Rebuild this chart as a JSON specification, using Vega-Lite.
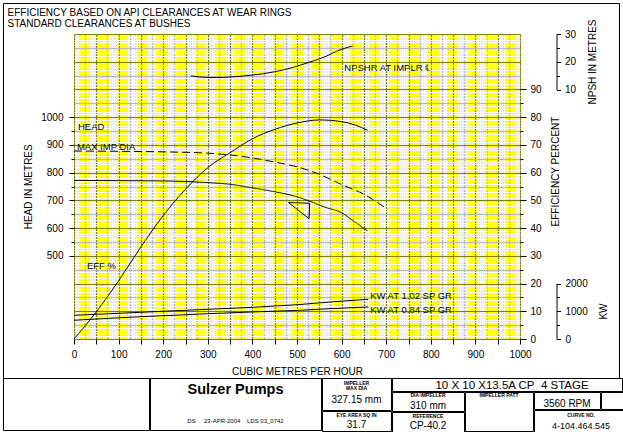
{
  "$schema": "https://vega.github.io/schema/vega-lite/v6.json",
  "padding": {"left": 2, "top": 2, "right": 5, "bottom": 3},
  "background": "white",
  "spacing": 0,
  "bounds": "flush",
  "config": {
    "font": "Liberation Sans",
    "view": {"stroke": "black", "strokeWidth": 1, "fill": "white"},
    "axis": {
      "labelFont": "Liberation Sans", "labelFontSize": 10, "labelColor": "black",
      "titleFont": "Liberation Sans", "titleFontSize": 10, "titleFontWeight": "normal", "titleColor": "black",
      "tickColor": "black", "domainColor": "black", "tickWidth": 1, "domainWidth": 1,
      "labelOverlap": false, "labelFlush": false, "gridOpacity": 1
    },
    "text": {"font": "Liberation Sans", "color": "black"}
  },
  "datasets": {
    "eff": [
      {"q": 0, "eff": 0}, {"q": 50, "eff": 9.8}, {"q": 100, "eff": 21}, {"q": 150, "eff": 33.2},
      {"q": 200, "eff": 44.5}, {"q": 250, "eff": 54}, {"q": 300, "eff": 61.8}, {"q": 350, "eff": 67.2},
      {"q": 400, "eff": 72.2}, {"q": 450, "eff": 75.6}, {"q": 500, "eff": 77.9}, {"q": 550, "eff": 79},
      {"q": 600, "eff": 78.4}, {"q": 630, "eff": 77.2}, {"q": 658, "eff": 75.3}
    ],
    "head": [
      {"q": 0, "h": 772, "s": "rated"}, {"q": 100, "h": 771, "s": "rated"}, {"q": 200, "h": 770, "s": "rated"},
      {"q": 250, "h": 768, "s": "rated"}, {"q": 300, "h": 764, "s": "rated"}, {"q": 350, "h": 758, "s": "rated"},
      {"q": 400, "h": 745, "s": "rated"}, {"q": 450, "h": 731, "s": "rated"}, {"q": 500, "h": 713, "s": "rated"},
      {"q": 530, "h": 696, "s": "rated"}, {"q": 560, "h": 677, "s": "rated"}, {"q": 600, "h": 655, "s": "rated"},
      {"q": 630, "h": 622, "s": "rated"}, {"q": 658, "h": 590, "s": "rated"},
      {"q": 0, "h": 878, "s": "max"}, {"q": 100, "h": 877, "s": "max"}, {"q": 200, "h": 875, "s": "max"},
      {"q": 300, "h": 870, "s": "max"}, {"q": 350, "h": 864, "s": "max"}, {"q": 400, "h": 853, "s": "max"},
      {"q": 450, "h": 838, "s": "max"}, {"q": 500, "h": 821, "s": "max"}, {"q": 550, "h": 794, "s": "max"},
      {"q": 600, "h": 757, "s": "max"}, {"q": 650, "h": 722, "s": "max"}, {"q": 703, "h": 668, "s": "max"}
    ],
    "npsh": [
      {"q": 262, "n": 14.9}, {"q": 290, "n": 14.4}, {"q": 320, "n": 14.3}, {"q": 350, "n": 14.5},
      {"q": 400, "n": 15.2}, {"q": 450, "n": 16.4}, {"q": 490, "n": 17.9}, {"q": 525, "n": 19.7},
      {"q": 555, "n": 21.3}, {"q": 600, "n": 24.5}, {"q": 625, "n": 25.7}
    ],
    "kw": [
      {"q": 0, "kw": 855, "s": "1.02"}, {"q": 100, "kw": 925, "s": "1.02"}, {"q": 200, "kw": 1000, "s": "1.02"},
      {"q": 300, "kw": 1070, "s": "1.02"}, {"q": 400, "kw": 1140, "s": "1.02"}, {"q": 500, "kw": 1235, "s": "1.02"},
      {"q": 580, "kw": 1340, "s": "1.02"}, {"q": 660, "kw": 1432, "s": "1.02"},
      {"q": 0, "kw": 675, "s": "0.84"}, {"q": 100, "kw": 765, "s": "0.84"}, {"q": 200, "kw": 840, "s": "0.84"},
      {"q": 300, "kw": 910, "s": "0.84"}, {"q": 400, "kw": 975, "s": "0.84"}, {"q": 500, "kw": 1030, "s": "0.84"},
      {"q": 584, "kw": 1100, "s": "0.84"}, {"q": 660, "kw": 1155, "s": "0.84"}
    ],
    "bep": [
      {"i": 1, "q": 481, "h": 692}, {"i": 2, "q": 528.5, "h": 689.5},
      {"i": 3, "q": 527, "h": 634}, {"i": 4, "q": 481, "h": 692}
    ],
    "labHead": [{"t": "HEAD", "q": 9, "v": 952}, {"t": "MAX IMP DIA", "q": 6.5, "v": 882}],
    "labEff": [{"t": "EFF %", "q": 29, "v": 25.4}],
    "labNpsh": [{"t": "NPSHR AT IMPLR ℄", "q": 606, "v": 16.5}],
    "labKw": [{"t": "KW AT 1.02 SP GR", "q": 664, "v": 1454}, {"t": "KW AT 0.84 SP GR", "q": 664, "v": 927}]
  },
  "vconcat": [
    {
      "width": 616,
      "height": 375,
      "view": {"stroke": "black", "strokeWidth": 1, "fill": "white"},
      "resolve": {"scale": {"y": "independent"}, "axis": {"x": "independent", "y": "independent"}},
      "layer": [
        {
          "data": {"name": "eff"},
          "mark": {"type": "point", "opacity": 0},
          "encoding": {
            "x": {"field": "q", "type": "quantitative", "scale": {"domain": [0, 1000], "range": [71, 517], "nice": false, "zero": false},
              "axis": {"orient": "top", "offset": -31, "values": [500], "grid": true, "gridColor": "#ffff00", "gridWidth": 446, "labels": false, "ticks": false, "domain": false,
                "title": ["EFFICIENCY BASED ON API CLEARANCES AT WEAR RINGS", "STANDARD CLEARANCES AT BUSHES"],
                "titleX": 4, "titleY": -19, "titleAlign": "left", "titleBaseline": "alphabetic", "titleAngle": 0, "titleLineHeight": 11, "titleFontSize": 10}},
            "y": {"field": "eff", "type": "quantitative", "scale": {"domain": [0, 110], "range": [336, 31], "nice": false, "zero": false}, "axis": null}
          }
        },
        {
          "data": {"name": "eff"},
          "mark": {"type": "point", "opacity": 0},
          "encoding": {
            "x": {"field": "q", "type": "quantitative", "scale": {"domain": [0, 1000], "range": [71, 517], "nice": false, "zero": false},
              "axis": {"orient": "top", "offset": -31, "tickCount": 200, "grid": true,
                "gridColor": {"condition": [{"test": "datum.value % 50 === 0", "value": "#808000"}, {"test": "datum.value % 25 === 0", "value": "#b8b8b8"}], "value": "#ffffff"},
                "gridWidth": 1, "labels": false, "ticks": false, "domain": false, "title": null}},
            "y": {"field": "eff", "type": "quantitative", "scale": {"domain": [0, 110], "range": [336, 31], "nice": false, "zero": false},
              "axis": {"orient": "left", "offset": -71, "tickCount": 110, "grid": true,
                "gridColor": {"condition": [{"test": "datum.value % 10 === 0", "value": "#808000"}, {"test": "datum.value % 5 === 0", "value": "#b8b8b8"}], "value": "#ffffff"},
                "gridWidth": 1, "labels": false, "ticks": false, "domain": false, "title": null}}
          }
        },
        {
          "data": {"name": "eff"},
          "mark": {"type": "line", "color": "black", "strokeWidth": 1, "interpolate": "monotone"},
          "encoding": {
            "x": {"field": "q", "type": "quantitative", "scale": {"domain": [0, 1000], "range": [71, 517], "nice": false, "zero": false},
              "axis": {"orient": "bottom", "offset": -39, "format": "d",
                "values": [0, 50, 100, 150, 200, 250, 300, 350, 400, 450, 500, 550, 600, 650, 700, 750, 800, 850, 900, 950, 1000],
                "labelExpr": "datum.value % 100 === 0 ? datum.label : ''",
                "tickSize": 5, "labelPadding": 5, "grid": false, "domain": false,
                "title": "CUBIC METRES PER HOUR", "titleX": 294, "titleY": 35, "titleBaseline": "alphabetic", "titleAlign": "center"}},
            "y": {"field": "eff", "type": "quantitative", "scale": {"domain": [0, 110], "range": [336, 31], "nice": false, "zero": false},
              "axis": {"orient": "right", "offset": -99,
                "values": [0, 5, 10, 15, 20, 25, 30, 35, 40, 45, 50, 55, 60, 65, 70, 75, 80, 85, 90],
                "labelExpr": "datum.value % 10 === 0 ? datum.label : ''",
                "tickSize": {"condition": {"test": "datum.value % 10 === 0", "value": 6}, "value": 3},
                "labelPadding": 4, "grid": false, "domain": false,
                "title": "EFFICIENCY PERCENT", "titleAngle": 270, "titleX": 38.3, "titleY": 168, "titleBaseline": "alphabetic", "titleAlign": "center"}}
          }
        },
        {
          "data": {"name": "head"},
          "mark": {"type": "line", "color": "black", "strokeWidth": 1, "interpolate": "monotone"},
          "encoding": {
            "x": {"field": "q", "type": "quantitative", "scale": {"domain": [0, 1000], "range": [71, 517], "nice": false, "zero": false}, "axis": null},
            "y": {"field": "h", "type": "quantitative", "scale": {"domain": [200, 1300], "range": [336, 31], "nice": false, "zero": false},
              "axis": {"orient": "left", "offset": -71, "format": "d",
                "values": [500, 550, 600, 650, 700, 750, 800, 850, 900, 950, 1000],
                "labelExpr": "datum.value % 100 === 0 ? datum.label : ''",
                "tickSize": {"condition": {"test": "datum.value % 100 === 0", "value": 5}, "value": 3},
                "labelPadding": 6, "grid": false, "domain": false,
                "title": "HEAD IN METRES", "titleAngle": 270, "titleX": -42.3, "titleY": 183.3, "titleBaseline": "alphabetic", "titleAlign": "center"}},
            "strokeDash": {"field": "s", "type": "nominal", "scale": {"domain": ["rated", "max"], "range": [[1, 0], [8, 4]]}, "legend": null}
          }
        },
        {
          "data": {"name": "npsh"},
          "mark": {"type": "line", "color": "black", "strokeWidth": 1, "interpolate": "monotone"},
          "encoding": {
            "x": {"field": "q", "type": "quantitative", "scale": {"domain": [0, 1000], "range": [71, 517], "nice": false, "zero": false}, "axis": null},
            "y": {"field": "n", "type": "quantitative", "scale": {"domain": [10, 30], "range": [86.5, 31], "nice": false, "zero": false},
              "axis": {"orient": "right", "offset": -62.5, "values": [10, 15, 20, 25, 30],
                "labelExpr": "datum.value % 10 === 0 ? datum.label : ''",
                "tickSize": {"condition": {"test": "datum.value % 10 === 0", "value": 4}, "value": 3},
                "labelPadding": 4, "grid": false, "domain": true,
                "title": "NPSH IN METRES", "titleAngle": 270, "titleX": 38.5, "titleY": 58.5, "titleBaseline": "alphabetic", "titleAlign": "center"}}
          }
        },
        {
          "data": {"name": "kw"},
          "mark": {"type": "line", "color": "black", "strokeWidth": 1},
          "encoding": {
            "x": {"field": "q", "type": "quantitative", "scale": {"domain": [0, 1000], "range": [71, 517], "nice": false, "zero": false}, "axis": null},
            "y": {"field": "kw", "type": "quantitative", "scale": {"domain": [0, 2000], "range": [336, 280.5], "nice": false, "zero": false},
              "axis": {"orient": "right", "offset": -62.5, "values": [0, 500, 1000, 1500, 2000],
                "labelExpr": "datum.value % 1000 === 0 ? datum.label : ''",
                "tickSize": {"condition": {"test": "datum.value % 1000 === 0", "value": 4}, "value": 3},
                "labelPadding": 4.5, "grid": false, "domain": true, "format": "d",
                "title": "KW", "titleAngle": 270, "titleX": 49.5, "titleY": 308, "titleBaseline": "alphabetic", "titleAlign": "center"}},
            "detail": {"field": "s", "type": "nominal"}
          }
        },
        {
          "data": {"name": "bep"},
          "mark": {"type": "line", "color": "black", "strokeWidth": 1},
          "encoding": {
            "x": {"field": "q", "type": "quantitative", "scale": {"domain": [0, 1000], "range": [71, 517], "nice": false, "zero": false}, "axis": null},
            "y": {"field": "h", "type": "quantitative", "scale": {"domain": [200, 1300], "range": [336, 31], "nice": false, "zero": false}, "axis": null},
            "order": {"field": "i", "type": "quantitative"}
          }
        },
        {
          "data": {"name": "labHead"},
          "mark": {"type": "text", "align": "left", "baseline": "alphabetic", "fontSize": 9.5},
          "encoding": {
            "x": {"field": "q", "type": "quantitative", "scale": {"domain": [0, 1000], "range": [71, 517], "nice": false, "zero": false}, "axis": null},
            "y": {"field": "v", "type": "quantitative", "scale": {"domain": [200, 1300], "range": [336, 31], "nice": false, "zero": false}, "axis": null},
            "text": {"field": "t"}
          }
        },
        {
          "data": {"name": "labEff"},
          "mark": {"type": "text", "align": "left", "baseline": "alphabetic", "fontSize": 9.5},
          "encoding": {
            "x": {"field": "q", "type": "quantitative", "scale": {"domain": [0, 1000], "range": [71, 517], "nice": false, "zero": false}, "axis": null},
            "y": {"field": "v", "type": "quantitative", "scale": {"domain": [0, 110], "range": [336, 31], "nice": false, "zero": false}, "axis": null},
            "text": {"field": "t"}
          }
        },
        {
          "data": {"name": "labNpsh"},
          "mark": {"type": "text", "align": "left", "baseline": "alphabetic", "fontSize": 9.5},
          "encoding": {
            "x": {"field": "q", "type": "quantitative", "scale": {"domain": [0, 1000], "range": [71, 517], "nice": false, "zero": false}, "axis": null},
            "y": {"field": "v", "type": "quantitative", "scale": {"domain": [10, 30], "range": [86.5, 31], "nice": false, "zero": false}, "axis": null},
            "text": {"field": "t"}
          }
        },
        {
          "data": {"name": "labKw"},
          "mark": {"type": "text", "align": "left", "baseline": "alphabetic", "fontSize": 9.5},
          "encoding": {
            "x": {"field": "q", "type": "quantitative", "scale": {"domain": [0, 1000], "range": [71, 517], "nice": false, "zero": false}, "axis": null},
            "y": {"field": "v", "type": "quantitative", "scale": {"domain": [0, 2000], "range": [336, 280.5], "nice": false, "zero": false}, "axis": null},
            "text": {"field": "t"}
          }
        }
      ]
    },
    {
      "spacing": -1,
      "hconcat": [
        {"width": 146, "height": 52, "view": {"stroke": "black"}, "data": {"values": [{"t": ""}]}, "mark": {"type": "text"}, "encoding": {"text": {"field": "t"}}},
        {
          "width": 171, "height": 52, "view": {"stroke": "black"},
          "data": {"values": [{"a": "Sulzer Pumps", "b": "DS\u00a0\u00a0\u00a0\u00a0\u00a023-APR-2004\u00a0\u00a0\u00a0\u00a0LDS 03_0742"}]},
          "layer": [
            {"mark": {"type": "text", "fontSize": 14.5, "fontWeight": "bold", "baseline": "alphabetic", "dy": -10}, "encoding": {"text": {"field": "a"}}},
            {"mark": {"type": "text", "fontSize": 6, "baseline": "alphabetic", "dy": 19}, "encoding": {"text": {"field": "b"}}}
          ]
        },
        {
          "spacing": -1,
          "vconcat": [
            {
              "width": 69, "height": 32, "view": {"stroke": "black"},
              "data": {"values": [{"a": "IMPELLER", "b": "MAX DIA", "c": "327.15 mm"}]},
              "layer": [
                {"mark": {"type": "text", "fontSize": 5, "fontWeight": "bold", "baseline": "middle", "dy": -11.5}, "encoding": {"text": {"field": "a"}}},
                {"mark": {"type": "text", "fontSize": 5, "fontWeight": "bold", "baseline": "middle", "dy": -6.5}, "encoding": {"text": {"field": "b"}}},
                {"mark": {"type": "text", "fontSize": 10, "baseline": "middle", "dy": 6}, "encoding": {"text": {"field": "c"}}}
              ]
            },
            {
              "width": 69, "height": 20, "view": {"stroke": "black"},
              "data": {"values": [{"a": "EYE AREA SQ IN", "b": "31.7"}]},
              "layer": [
                {"mark": {"type": "text", "fontSize": 5, "fontWeight": "bold", "baseline": "middle", "dy": -5.7}, "encoding": {"text": {"field": "a"}}},
                {"mark": {"type": "text", "fontSize": 10, "baseline": "middle", "dy": 3.5}, "encoding": {"text": {"field": "b"}}}
              ]
            }
          ]
        },
        {
          "spacing": -1,
          "vconcat": [
            {
              "width": 230, "height": 13, "view": {"stroke": "black"},
              "data": {"values": [{"a": "10 X 10 X13.5A CP\u00a0\u00a04 STAGE"}]},
              "mark": {"type": "text", "fontSize": 11.5, "baseline": "middle", "dy": 1, "dx": 5},
              "encoding": {"text": {"field": "a"}}
            },
            {
              "spacing": -1,
              "hconcat": [
                {
                  "spacing": -1,
                  "vconcat": [
                    {
                      "width": 72, "height": 19, "view": {"stroke": "black"},
                      "data": {"values": [{"a": "DIA IMPELLER", "b": "310 mm"}]},
                      "layer": [
                        {"mark": {"type": "text", "fontSize": 5, "fontWeight": "bold", "baseline": "middle", "dy": -6.5}, "encoding": {"text": {"field": "a"}}},
                        {"mark": {"type": "text", "fontSize": 10, "baseline": "middle", "dy": 4}, "encoding": {"text": {"field": "b"}}}
                      ]
                    },
                    {
                      "width": 72, "height": 20, "view": {"stroke": "black"},
                      "data": {"values": [{"a": "REFERENCE", "b": "CP-40.2"}]},
                      "layer": [
                        {"mark": {"type": "text", "fontSize": 5, "fontWeight": "bold", "baseline": "middle", "dy": -6.5}, "encoding": {"text": {"field": "a"}}},
                        {"mark": {"type": "text", "fontSize": 10, "baseline": "middle", "dy": 3.5}, "encoding": {"text": {"field": "b"}}}
                      ]
                    }
                  ]
                },
                {
                  "width": 68, "height": 39, "view": {"stroke": "black"},
                  "data": {"values": [{"a": "IMPELLER PATT"}]},
                  "mark": {"type": "text", "fontSize": 5, "fontWeight": "bold", "baseline": "middle", "dy": -16.5},
                  "encoding": {"text": {"field": "a"}}
                },
                {
                  "spacing": -1,
                  "vconcat": [
                    {
                      "spacing": -1,
                      "hconcat": [
                        {
                          "width": 66, "height": 17, "view": {"stroke": "black"},
                          "data": {"values": [{"a": "3560 RPM"}]},
                          "mark": {"type": "text", "fontSize": 10, "baseline": "middle", "dy": 3},
                          "encoding": {"text": {"field": "a"}}
                        },
                        {"width": 24, "height": 17, "view": {"stroke": "black"}, "data": {"values": [{"t": ""}]}, "mark": {"type": "text"}, "encoding": {"text": {"field": "t"}}}
                      ]
                    },
                    {
                      "width": 90, "height": 22, "view": {"stroke": "black"},
                      "data": {"values": [{"a": "CURVE NO.", "b": "4-104.464.545"}]},
                      "layer": [
                        {"mark": {"type": "text", "fontSize": 5, "fontWeight": "bold", "baseline": "middle", "dy": -6.3, "dx": 2}, "encoding": {"text": {"field": "a"}}},
                        {"mark": {"type": "text", "fontSize": 9, "baseline": "middle", "dy": 5, "dx": 2}, "encoding": {"text": {"field": "b"}}}
                      ]
                    }
                  ]
                }
              ]
            }
          ]
        }
      ]
    }
  ]
}
